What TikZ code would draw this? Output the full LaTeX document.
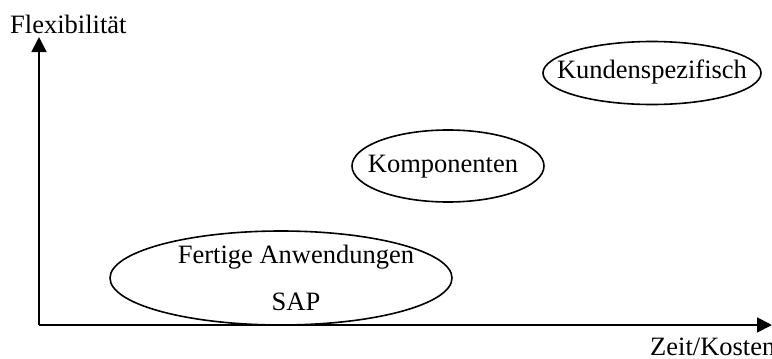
\documentclass[tikz,border=0pt]{standalone}
\usepackage{fontspec}
\setmainfont{Liberation Serif}
\usetikzlibrary{arrows.meta,shapes.geometric}
\begin{document}
\begin{tikzpicture}[x=1pt,y=-1pt,
  lbl/.style={inner sep=0pt,font=\fontsize{26.5}{32}\selectfont},
  oval/.style={draw,ellipse,line width=1.6pt,inner sep=0pt},
  axis/.style={line width=1.8pt,-{Triangle[width=15pt,length=15pt]}}]
\useasboundingbox (0,0) rectangle (772,359);
\coordinate (o) at (39,325);
\coordinate (ytip) at (39,37);
\coordinate (xtip) at (772,325);
\draw[axis] (o) -- (ytip);
\draw[axis] (o) -- (xtip);
\node[lbl,anchor=base west] (ylab) at (10,33) {Flexibilität};
\node[lbl,anchor=base west] (xlab) at (650,355) {Zeit/Kosten};
\node[oval,minimum width=342pt,minimum height=94pt] (e1) at (281,278) {};
\node[lbl,anchor=base] (t1) at (296,263) {Fertige Anwendungen};
\node[lbl,anchor=base] (t2) at (296,310) {SAP};
\node[oval,minimum width=192pt,minimum height=72pt] (e2) at (448,166) {};
\node[lbl,anchor=base] (t3) at (443,172) {Komponenten};
\node[oval,minimum width=218pt,minimum height=63pt] (e3) at (652,73) {};
\node[lbl,anchor=base] (t4) at (652,78) {Kundenspezifisch};
\end{tikzpicture}
\end{document}
